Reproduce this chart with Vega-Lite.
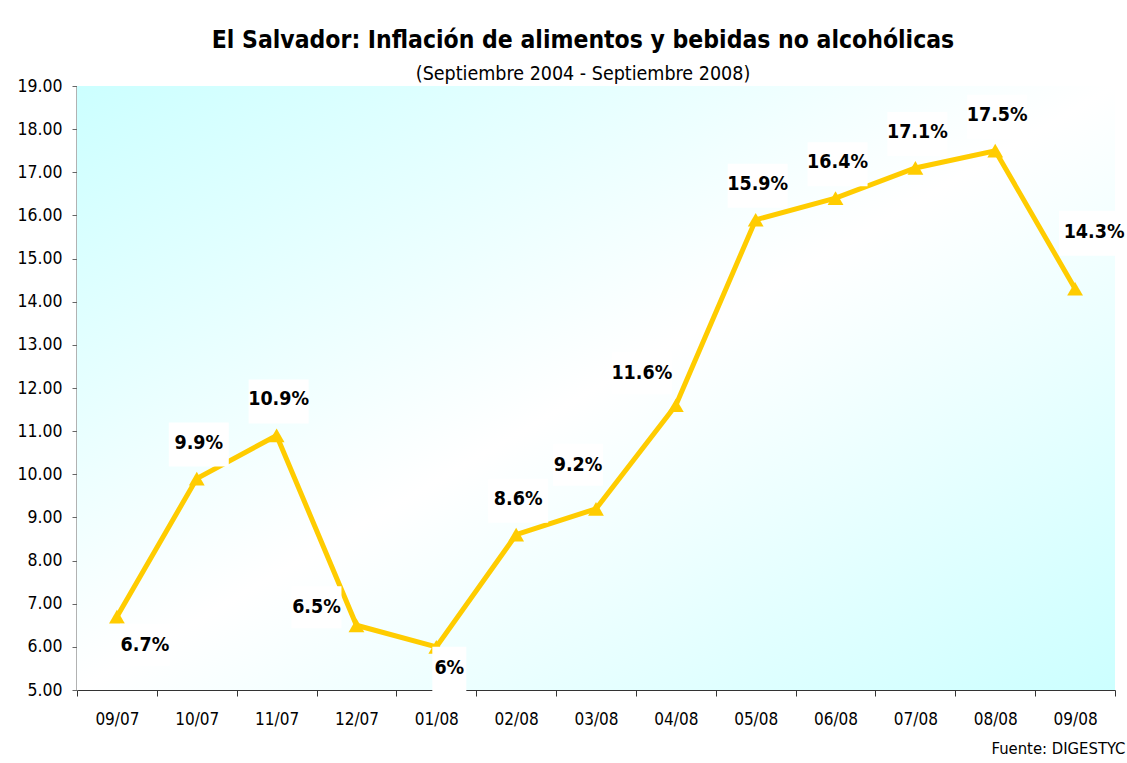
{
  "$schema": "https://vega.github.io/schema/vega-lite/v6.json",
  "width": 1038,
  "height": 604,
  "autosize": {"type": "none"},
  "padding": {"left": 77, "top": 86, "right": 12, "bottom": 73},
  "background": "white",
  "config": {
    "view": {"stroke": null},
    "font": "'DejaVu Sans Condensed', sans-serif"
  },
  "title": {
    "text": "El Salvador: Inflación de alimentos y bebidas no alcohólicas",
    "subtitle": "(Septiembre 2004 - Septiembre 2008)",
    "font": "'DejaVu Sans Condensed', sans-serif",
    "subtitleFont": "'DejaVu Sans Condensed', sans-serif",
    "fontSize": 24.5,
    "fontWeight": "bold",
    "subtitleFontSize": 19.5,
    "color": "black",
    "subtitleColor": "black",
    "anchor": "middle",
    "dx": -13,
    "offset": -7,
    "subtitlePadding": 11
  },
  "data": {
    "values": [
      {"month": "09/07", "value": 6.7},
      {"month": "10/07", "value": 9.9},
      {"month": "11/07", "value": 10.9},
      {"month": "12/07", "value": 6.5},
      {"month": "01/08", "value": 6.0},
      {"month": "02/08", "value": 8.6},
      {"month": "03/08", "value": 9.2},
      {"month": "04/08", "value": 11.6},
      {"month": "05/08", "value": 15.9},
      {"month": "06/08", "value": 16.4},
      {"month": "07/08", "value": 17.1},
      {"month": "08/08", "value": 17.5},
      {"month": "09/08", "value": 14.3}
    ]
  },
  "layer": [
    {
      "data": {"values": [{}]},
      "mark": {
        "type": "rect",
        "fill": {
          "gradient": "linear",
          "x1": 0, "y1": 0, "x2": 1, "y2": 1,
          "stops": [
            {"offset": 0, "color": "#CCFFFF"},
            {"offset": 0.5, "color": "#FFFFFF"},
            {"offset": 1, "color": "#CCFFFF"}
          ]
        }
      },
      "encoding": {}
    },
    {
      "transform": [{"calculate": "datum.value + '%'", "as": "label"}],
      "encoding": {
        "x": {
          "field": "month",
          "type": "ordinal",
          "sort": null,
          "scale": {"type": "band", "paddingInner": 0, "paddingOuter": 0},
          "axis": {
            "title": "Fuente: DIGESTYC",
            "labelAngle": 0,
            "tickBand": "extent",
            "labelFontSize": 17,
            "labelColor": "black",
            "tickSize": 6,
            "labelPadding": 15,
            "grid": false,
            "titleFontSize": 16.5,
            "titleFontWeight": "normal",
            "titleColor": "black",
            "titleAnchor": "end",
            "titleAlign": "right",
            "titleX": 1048,
            "titleY": 58,
            "titleBaseline": "middle",
            "domainColor": "#333",
            "tickColor": "#333"
          }
        },
        "y": {
          "field": "value",
          "type": "quantitative",
          "scale": {"domain": [5, 19], "nice": false, "zero": false},
          "axis": {
            "title": null,
            "values": [5, 6, 7, 8, 9, 10, 11, 12, 13, 14, 15, 16, 17, 18, 19],
            "format": ".2f",
            "grid": false,
            "labelFontSize": 17.5,
            "labelColor": "black",
            "tickSize": 5,
            "labelPadding": 10,
            "domainColor": "#666",
            "domainWidth": 2,
            "tickColor": "#666"
          }
        }
      },
      "layer": [
        {"mark": {"type": "line", "color": "#FFCC00", "strokeWidth": 5}},
        {"mark": {"type": "point", "shape": "triangle-up", "filled": true, "color": "#FFCC00", "size": 250, "opacity": 1}},
        {
          "transform": [{"filter": {"field": "month", "oneOf": ["10/07", "11/07", "02/08", "05/08", "06/08", "07/08", "08/08"]}}],
          "layer": [
            {"mark": {"type": "point", "shape": "M-0.933,-1.867H1.067V-0.4H-0.933Z", "size": 3600, "filled": true, "color": "white", "opacity": 1}},
            {"mark": {"type": "text", "dx": 2, "dy": -36, "fontSize": 19.5, "fontWeight": "bold", "color": "black"}, "encoding": {"text": {"field": "label"}}}
          ]
        },
        {
          "transform": [{"filter": {"field": "month", "oneOf": ["09/07"]}}],
          "layer": [
            {"mark": {"type": "point", "shape": "M0.1,0.233H1.767V1.633H0.1Z", "size": 3600, "filled": true, "color": "white", "opacity": 1}},
            {"mark": {"type": "text", "dx": 28, "dy": 28, "fontSize": 19.5, "fontWeight": "bold", "color": "black"}, "encoding": {"text": {"field": "label"}}}
          ]
        },
        {
          "transform": [{"filter": {"field": "month", "oneOf": ["01/08"]}}],
          "layer": [
            {"mark": {"type": "point", "shape": "M-0.133,0H1V1.5H-0.133Z", "size": 3600, "filled": true, "color": "white", "opacity": 1}},
            {"mark": {"type": "text", "dx": 13, "dy": 21, "fontSize": 19.5, "fontWeight": "bold", "color": "black"}, "encoding": {"text": {"field": "label"}}}
          ]
        },
        {
          "transform": [{"filter": {"field": "month", "oneOf": ["12/07"]}}],
          "layer": [
            {"mark": {"type": "point", "shape": "M-2.167,-1.3H-0.5V0.1H-2.167Z", "size": 3600, "filled": true, "color": "white", "opacity": 1}},
            {"mark": {"type": "text", "dx": -40, "dy": -18, "fontSize": 19.5, "fontWeight": "bold", "color": "black"}, "encoding": {"text": {"field": "label"}}}
          ]
        },
        {
          "transform": [{"filter": {"field": "month", "oneOf": ["03/08"]}}],
          "layer": [
            {"mark": {"type": "point", "shape": "M-1.433,-2.167H0.233V-0.767H-1.433Z", "size": 3600, "filled": true, "color": "white", "opacity": 1}},
            {"mark": {"type": "text", "dx": -18, "dy": -44, "fontSize": 19.5, "fontWeight": "bold", "color": "black"}, "encoding": {"text": {"field": "label"}}}
          ]
        },
        {
          "transform": [{"filter": {"field": "month", "oneOf": ["04/08"]}}],
          "layer": [
            {"mark": {"type": "point", "shape": "M-2.133,-1.767H-0.133V-0.367H-2.133Z", "size": 3600, "filled": true, "color": "white", "opacity": 1}},
            {"mark": {"type": "text", "dx": -34, "dy": -32, "fontSize": 19.5, "fontWeight": "bold", "color": "black"}, "encoding": {"text": {"field": "label"}}}
          ]
        },
        {
          "transform": [{"filter": {"field": "month", "oneOf": ["09/08"]}}],
          "layer": [
            {"mark": {"type": "point", "shape": "M-0.533,-2.6H1.667V-1.1H-0.533Z", "size": 3600, "filled": true, "color": "white", "opacity": 1}},
            {"mark": {"type": "text", "dx": 19, "dy": -57, "fontSize": 19.5, "fontWeight": "bold", "color": "black"}, "encoding": {"text": {"field": "label"}}}
          ]
        }
      ]
    }
  ]
}
